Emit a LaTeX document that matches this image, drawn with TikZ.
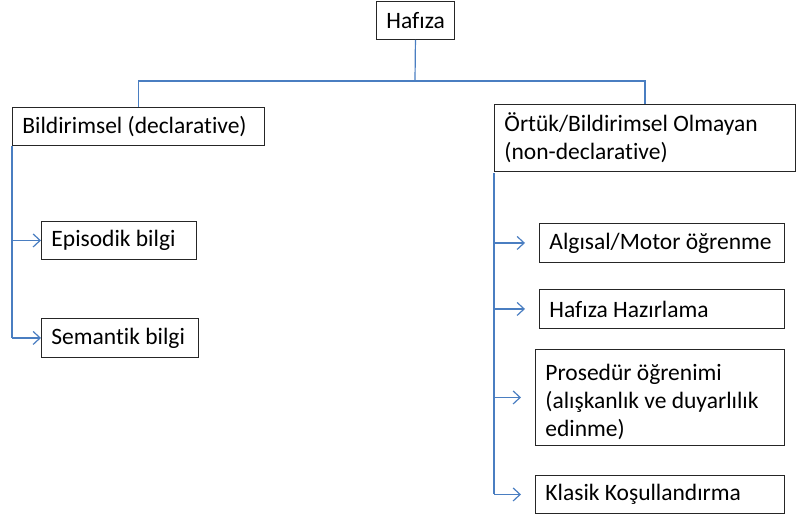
\documentclass[tikz,border=0pt]{standalone}
\usepackage{fontspec}
\setmainfont{Carlito}[Ligatures=NoCommon]
\usetikzlibrary{arrows.meta}
\definecolor{linkblue}{RGB}{74,126,193}

\begin{document}
\begin{tikzpicture}[x=1pt,y=-1pt,
  box/.style={draw=black!85, line width=0.9pt, anchor=north west, inner xsep=10pt, inner ysep=0pt, align=left, font=\fontsize{23.5}{28}\selectfont, execute at begin node={\spaceskip=5.3pt\relax}},
  link/.style={draw=linkblue, line width=1.2pt},
  arr/.style={link, -{Straight Barb[length=7pt,width=13pt]}, shorten >=14pt}]

\useasboundingbox (0,0) rectangle (796,517);

\node(hafiza) at (376,1) [box, text width=58pt, minimum height=38pt, align=center] {Hafıza};

\node(bild) at (12,107) [box, text width=232pt, minimum height=38pt] {Bildirimsel (declarative)};
\node(ortuk) at (494,104) [box, text width=281pt, minimum height=67pt] {Örtük/Bildirimsel Olmayan\\(non-declarative)};

\node(episodik) at (41,221) [box, text width=135pt, minimum height=38pt] {Episodik bilgi};
\node(semantik) at (41,318) [box, text width=137pt, minimum height=39pt] {Semantik bilgi};

\node(algisal) at (539,223) [box, text width=225pt, minimum height=39pt] {\mbox{Algısal/Motor öğrenme}};
\node(hazir) at (539,289) [box, text width=225pt, minimum height=39pt] {Hafıza Hazırlama};
\node(prosedur) at (535,349) [box, text width=229pt, minimum height=96pt] {\rule{0pt}{26pt}Prosedür öğrenimi\\(alışkanlık ve duyarlılık\\edinme)};
\node(klasik) at (535,475) [box, text width=229pt, minimum height=38pt] {Klasik Koşullandırma};

% tree
\coordinate(bar) at (415,81);
\draw[link] (hafiza.south) -- (bar);
\draw[link] (bild.north) |- (bar) -| (ortuk.north);

% left branch
\draw[link] (bild.south west) -- (bild.south west |- semantik.west);
\draw[arr] (bild.south west |- episodik.west) -- ([xshift=14pt]episodik.west);
\draw[arr] (bild.south west |- semantik.west) -- ([xshift=14pt]semantik.west);

% right branch
\coordinate(spine) at (494,173);
\draw[link] (spine) -- (spine |- klasik.west);
\draw[arr] (spine |- algisal.west) -- (algisal.west);
\draw[arr] (spine |- hazir.west) -- (hazir.west);
\draw[arr] (spine |- prosedur.west) -- (prosedur.west);
\draw[arr] (spine |- klasik.west) -- (klasik.west);

\end{tikzpicture}
\end{document}
